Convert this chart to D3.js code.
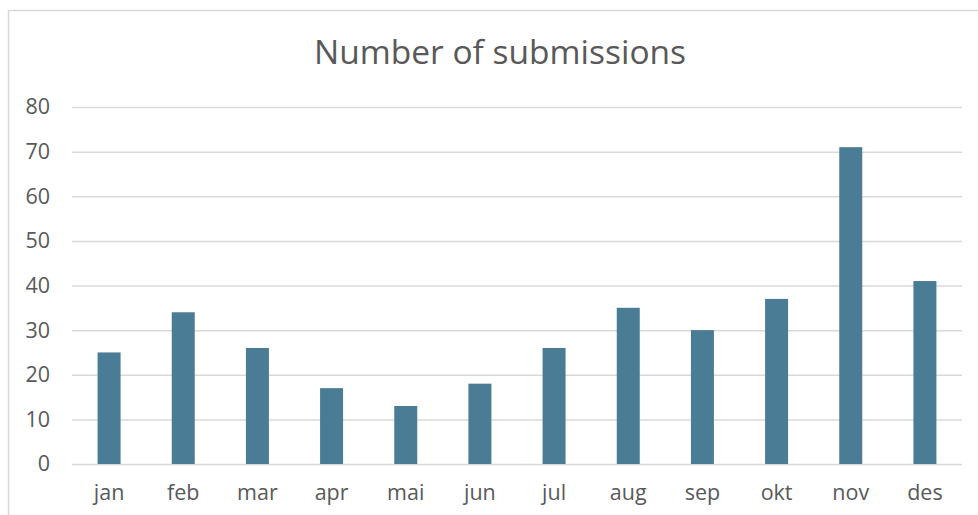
<!DOCTYPE html>
<html><head><meta charset="utf-8">
<script src="https://cdn.jsdelivr.net/npm/d3@7"></script>
<style>html,body{margin:0;padding:0;background:#fff;overflow:hidden}</style>
</head><body>
<script>
const categories = ["jan","feb","mar","apr","mai","jun","jul","aug","sep","okt","nov","des"];
const values = [25,34,26,17,13,18,26,35,30,37,71,41];
const yTicks = [0,10,20,30,40,50,60,70,80];
const title = "Number of submissions";

(function(){
const W = 978, H = 515;
const svg = d3.select("body").append("svg").attr("width", W).attr("height", H);
const font = "'Open Sans', 'Noto Sans', sans-serif";

svg.append("rect").attr("x",8.5).attr("y",10.5).attr("width",1000).attr("height",600)
  .attr("fill","#fff").attr("stroke","#d9d9d9").attr("stroke-width",1.5);

const pl = 72, pr = 962, pt = 107, pb = 464;
const x = d3.scaleBand().domain(categories).range([pl,pr]).paddingInner(0.69).paddingOuter(0.345);
const y = d3.scaleLinear().domain([0,80]).range([pb, pt]);

svg.append("text").attr("x",500).attr("y",64).attr("text-anchor","middle")
  .attr("font-family",font).attr("font-size",33.5).attr("fill","#595959").text(title);

const yAxis = d3.axisLeft(y).tickValues(yTicks).tickSize(-(pr-pl)).tickPadding(22);
const gy = svg.append("g").attr("transform",`translate(${pl},0)`).call(yAxis);
gy.select(".domain").remove();
gy.selectAll(".tick line").attr("stroke","#d9d9d9").attr("stroke-width",1.5);
gy.selectAll(".tick text").attr("font-family",font).attr("font-size",21.5).attr("fill","#595959");

svg.append("g").selectAll("rect").data(values).join("rect")
  .attr("x",(d,i)=>x(categories[i])).attr("width",x.bandwidth())
  .attr("y",d=>y(d)).attr("height",d=>y(0)-y(d)).attr("fill","#4A7C96");

const xAxis = d3.axisBottom(x).tickSize(0).tickPadding(21);
const gx = svg.append("g").attr("transform",`translate(0,${pb})`).call(xAxis);
gx.select(".domain").remove();
gx.selectAll(".tick text").attr("font-family",font).attr("font-size",21.5).attr("fill","#595959");
})();
</script>
</body></html>
